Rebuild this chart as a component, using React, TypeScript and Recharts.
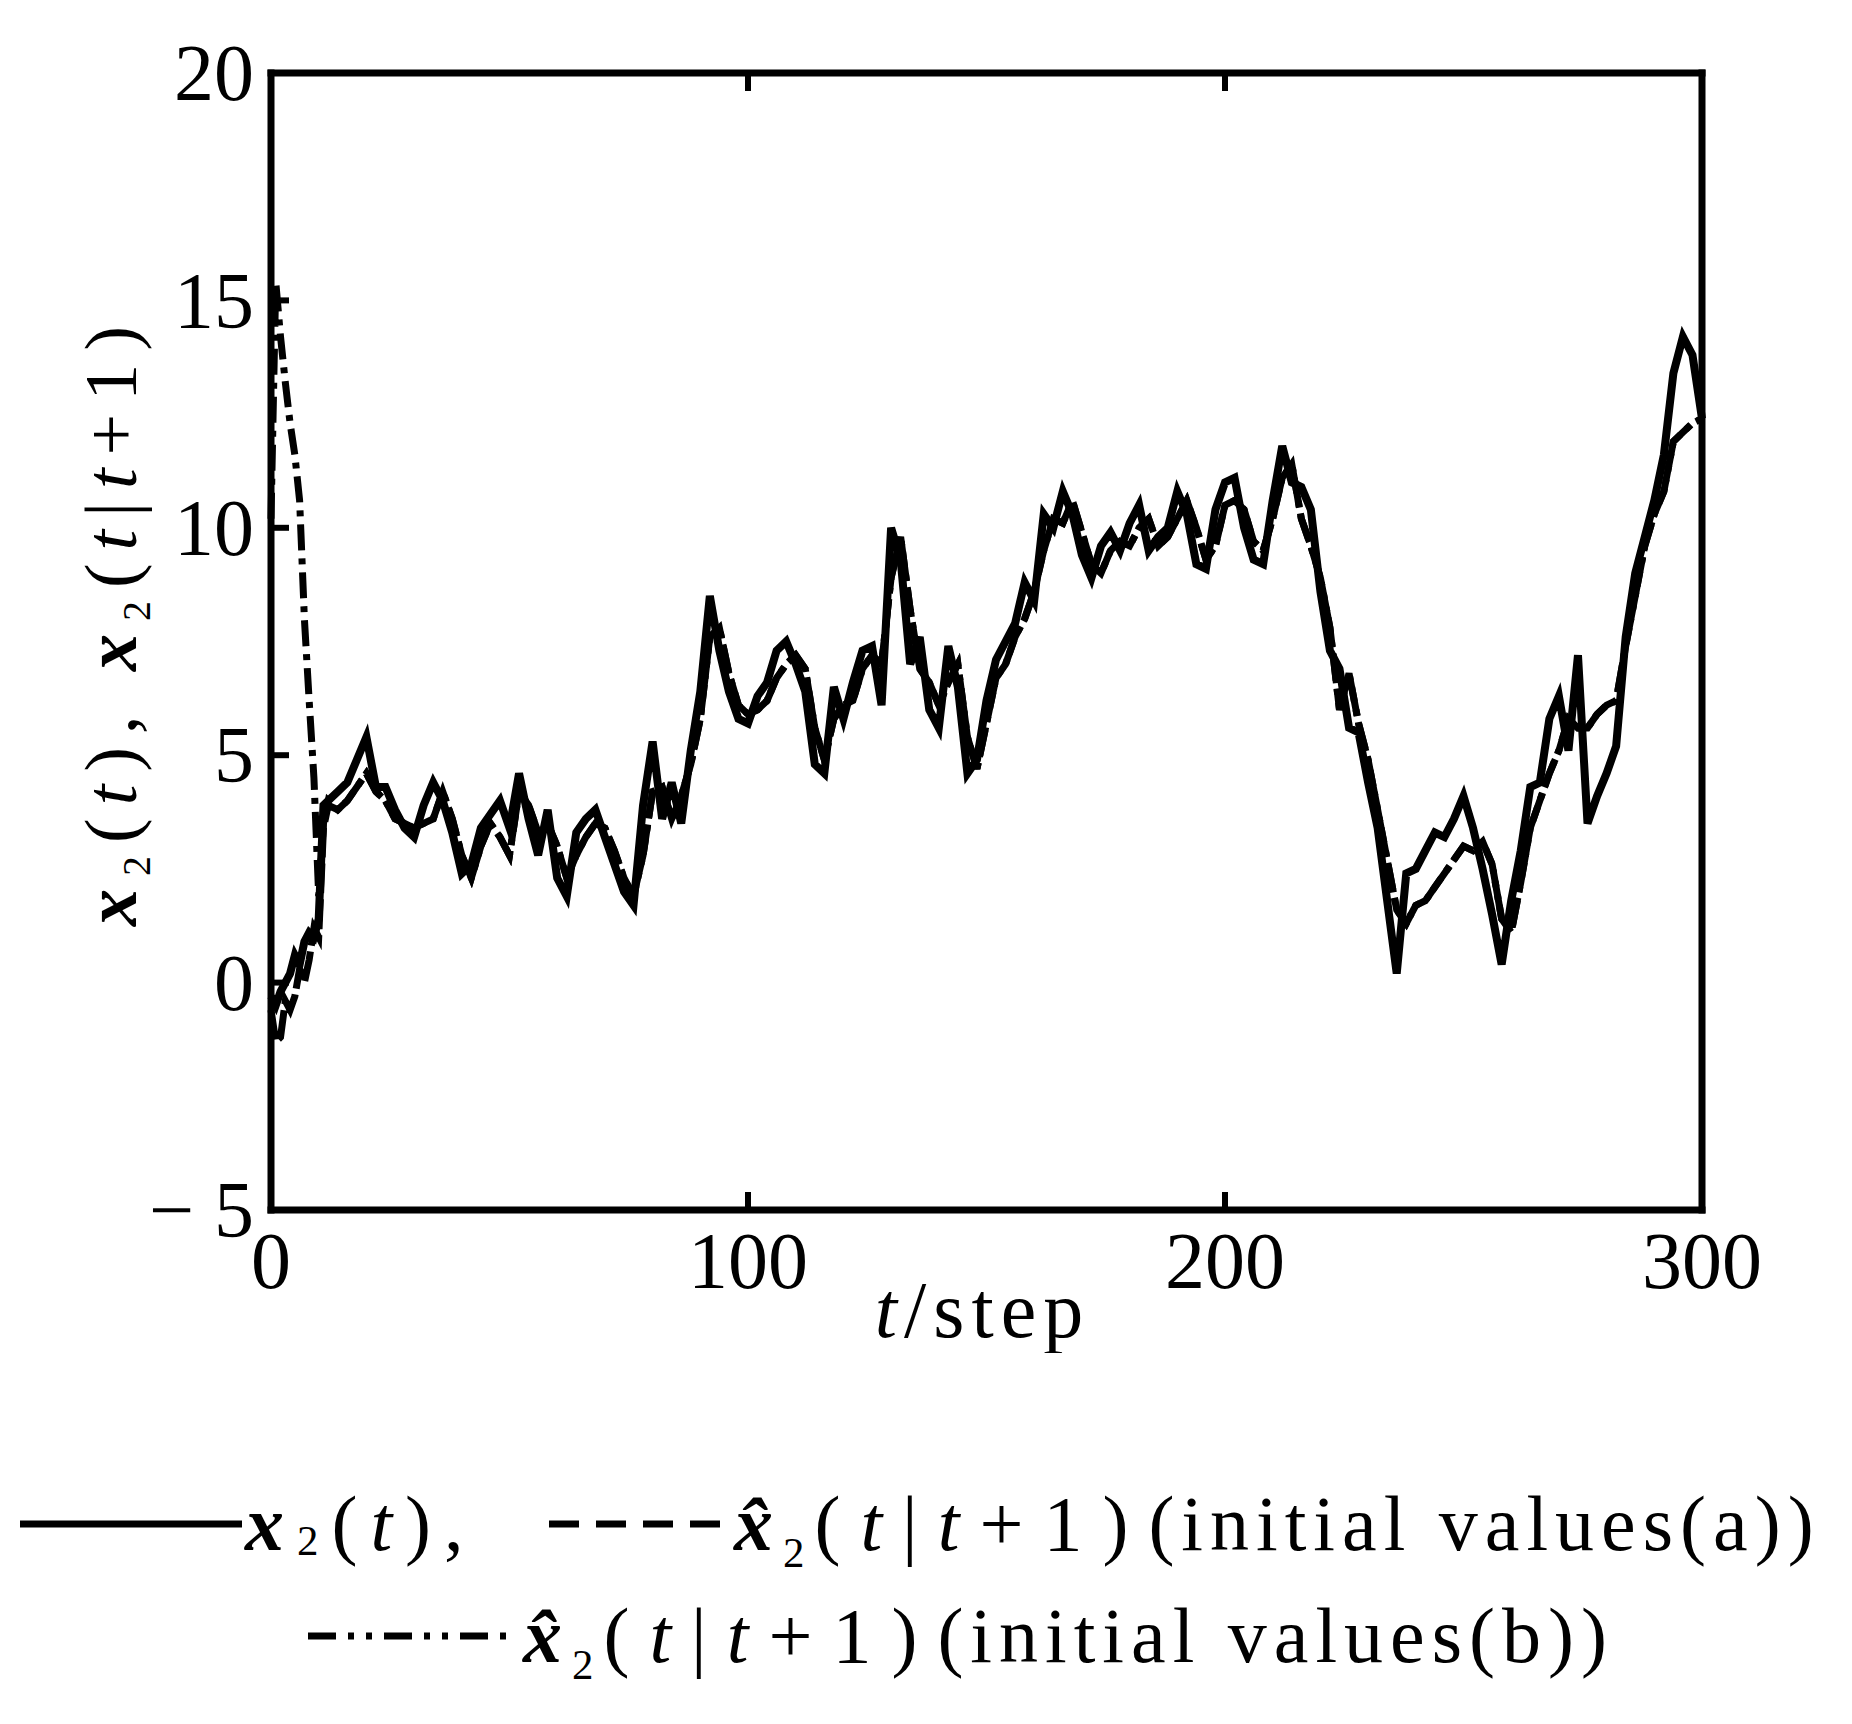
import React from "react";
import { LineChart, Line, XAxis, YAxis, Label } from "recharts";

const FONT = "'Liberation Serif', 'Times New Roman', serif";

// t = 0..12 every step, then 14..300 every 2 steps
const stepsEarly = [0, 1, 2, 3, 4, 5, 6, 7, 8, 9, 10, 11, 12];
const stepsTail = Array.from({ length: 144 }, (_, i) => 14 + i * 2);

const x2Early = [-0.3, -0.5, -0.2, 0.0, 0.2, 0.6, 0.4, 0.9, 1.1, 1.0, 1.4, 3.9, 4.0];
const estAEarly = [-0.6, -1.3, -1.2, -0.4, -0.6, -0.3, 0.3, 0.0, 0.5, 1.2, 1.0, 3.4, 3.9];
const estBEarly = [10.2, 15.4, 14.2, 13.2, 12.3, 11.6, 10.6, 8.0, 6.2, 4.5, 1.9, 3.5, 4.0];

const x2Tail = [
  4.2, 4.4, 4.9, 5.4, 4.3, 4.3, 3.8, 3.4, 3.2, 3.9,
  4.4, 4.0, 3.3, 2.4, 2.6, 3.4, 3.7, 4.0, 3.4, 4.6,
  3.6, 2.8, 3.8, 2.3, 1.9, 3.3, 3.6, 3.8, 3.2, 2.6,
  2.0, 1.7, 3.9, 5.3, 3.6, 4.4, 3.5, 5.1, 6.4, 8.5,
  7.3, 6.4, 5.8, 5.7, 6.3, 6.6, 7.3, 7.5, 7.0, 6.4,
  4.8, 4.6, 6.5, 5.8, 6.6, 7.3, 7.4, 6.1, 10.0, 9.3,
  7.0, 7.6, 6.0, 5.6, 7.4, 6.5, 4.6, 4.9, 6.2, 7.1,
  7.5, 7.9, 8.8, 8.4, 10.3, 10.0, 10.8, 10.3, 9.4, 8.9,
  9.6, 9.9, 9.5, 10.1, 10.5, 9.5, 9.8, 10.0, 10.8, 10.3,
  9.2, 9.1, 10.4, 11.0, 11.1, 10.0, 9.3, 9.2, 10.6, 11.8,
  11.0, 10.9, 10.4, 8.6, 7.3, 6.9, 5.6, 5.5, 4.4, 3.4,
  1.8, 0.2, 2.4, 2.5, 2.9, 3.3, 3.2, 3.6, 4.1, 3.4,
  2.5, 1.5, 0.4, 1.8, 2.9, 4.3, 4.4, 5.8, 6.3, 5.1,
  7.2, 3.5, 4.1, 4.6, 5.2, 7.6, 9.0, 9.8, 10.6, 11.6,
  13.4, 14.2, 13.8, 12.4,
];

// estimates (a) and (b) coincide once converged
const estTail = [
  3.8, 4.0, 4.3, 4.6, 4.2, 4.0, 3.6, 3.5, 3.4, 3.5,
  3.6, 4.2, 3.6, 2.8, 2.3, 3.0, 3.5, 3.2, 2.8, 4.2,
  3.9, 3.3, 3.5, 3.0, 2.3, 2.8, 3.2, 3.5, 3.4, 2.9,
  2.3, 1.9, 2.8, 4.2, 4.3, 3.6, 4.1, 4.8, 5.8, 7.6,
  7.8, 6.8, 6.1, 5.9, 6.0, 6.2, 6.7, 7.0, 7.2, 6.9,
  5.6, 4.9, 5.8, 6.1, 6.2, 6.9, 7.2, 7.0, 8.9, 9.8,
  8.2, 6.9, 6.6, 6.1, 6.6, 7.0, 5.4, 4.7, 5.7, 6.7,
  7.0, 7.6, 8.0, 8.6, 9.5, 10.2, 10.1, 10.6, 9.9, 9.2,
  9.0, 9.5, 9.7, 9.6, 10.0, 10.2, 9.6, 9.8, 10.2, 10.6,
  10.0, 9.3, 9.6, 10.5, 10.6, 10.4, 9.7, 9.5, 10.2, 11.1,
  11.4, 10.2, 9.6, 8.9, 7.8, 6.0, 6.8, 5.7, 4.9, 3.8,
  2.7, 1.6, 1.3, 1.7, 1.8, 2.1, 2.4, 2.7, 3.0, 2.9,
  3.1, 2.6, 1.4, 1.1, 2.2, 3.4, 4.0, 4.6, 5.1, 5.8,
  5.6, 5.6, 5.9, 6.1, 6.2, 7.4, 8.5, 9.6, 10.3, 10.8,
  11.9, 12.1, 12.3, 12.4,
];

const steps = [...stepsEarly, ...stepsTail];
const x2 = [...x2Early, ...x2Tail];
const estA = [...estAEarly, ...estTail];
const estB = [...estBEarly, ...estTail];

const xTicks = [0, 100, 200, 300];
const yTicks = [-5, 0, 5, 10, 15, 20];

const data = steps.map((t, i) => ({ t, x2: x2[i], a: estA[i], b: estB[i] }));

const TICK = 18;
const tickStroke = { stroke: "#000", strokeWidth: 6 };
const frame = { stroke: "#000", strokeWidth: 7, strokeLinecap: "square" as const };
const fmtY = (v: number) => (v < 0 ? `\u2212 ${-v}` : `${v}`);

function LeftTick({ x, y, payload }: any) {
  return (
    <g>
      <line x1={x + 17} x2={x + 17 + TICK} y1={y} y2={y} {...tickStroke} />
      <text x={x} y={y} dy="0.34em" textAnchor="end" fontFamily={FONT} fontSize={80} fill="#000">
        {fmtY(payload.value)}
      </text>
    </g>
  );
}

function RightTick({ x, y }: any) {
  return <line x1={x} x2={x - TICK} y1={y} y2={y} {...tickStroke} />;
}

function BottomTick({ x, y, payload }: any) {
  return (
    <g>
      <line x1={x} x2={x} y1={y} y2={y - TICK} {...tickStroke} />
      <text x={x} y={y + 78} textAnchor="middle" fontFamily={FONT} fontSize={80} fill="#000">
        {payload.value}
      </text>
    </g>
  );
}

function TopTick({ x, y }: any) {
  return <line x1={x} x2={x} y1={y} y2={y + TICK} {...tickStroke} />;
}

function YTitle({ viewBox }: any) {
  const cx = viewBox.x - 77;
  const cy = viewBox.y + viewBox.height / 2 - 22;
  return (
    <text
      x={cx}
      y={cy}
      transform={`rotate(-90, ${cx}, ${cy})`}
      textAnchor="middle"
      dy="0.3em"
      fontFamily={FONT}
      fontSize={74}
      letterSpacing={13}
      fill="#000"
    >
      <tspan fontWeight="bold" fontStyle="italic">x</tspan>
      <tspan fontSize={40} dy={14}>2</tspan>
      <tspan dy={-14}>(</tspan>
      <tspan fontStyle="italic">t</tspan>
      <tspan>), </tspan>
      <tspan fontWeight="bold" fontStyle="italic">x</tspan>
      <tspan fontSize={40} dy={14}>2</tspan>
      <tspan dy={-14}>(</tspan>
      <tspan fontStyle="italic">t</tspan>
      <tspan>|</tspan>
      <tspan fontStyle="italic">t</tspan>
      <tspan>+1)</tspan>
    </text>
  );
}

function XTitle({ viewBox }: any) {
  const cx = viewBox.x + viewBox.width / 2 - 4;
  return (
    <text x={cx} y={viewBox.y + 127} textAnchor="middle" fontFamily={FONT} fontSize={80} letterSpacing={7} fill="#000">
      <tspan fontStyle="italic">t</tspan>
      <tspan>/step</tspan>
    </text>
  );
}

const legendText: React.CSSProperties = {
  fontFamily: FONT,
  fontSize: 78,
  whiteSpace: "nowrap",
  lineHeight: 1,
};
const sub: React.CSSProperties = { fontSize: "0.55em", position: "relative", top: "0.4em" };
const bx: React.CSSProperties = { fontWeight: "bold", fontStyle: "italic" };

function At({ left, spacing = 0, children }: { left: number; spacing?: number; children: React.ReactNode }) {
  return (
    <span
      style={{
        ...legendText,
        position: "absolute",
        left,
        top: "50%",
        transform: "translateY(-50%)",
        letterSpacing: spacing,
        display: "flex",
        alignItems: "center",
      }}
    >
      {children}
    </span>
  );
}

function Sample({ left, width, dash }: { left: number; width: number; dash?: string }) {
  return (
    <svg width={width} height={20} style={{ position: "absolute", left, top: 40 }}>
      <line x1={0} x2={width} y1={10} y2={10} stroke="#000" strokeWidth={7} strokeDasharray={dash} />
    </svg>
  );
}

function Estimate({ tag, left }: { tag: string; left: number }) {
  return (
    <At left={left}>
      <span style={{ letterSpacing: 10 }}>
        <span style={bx}>x&#770;</span>
        <span style={sub}>2</span>
      </span>
      <span style={{ letterSpacing: 20 }}>
        (<i>t</i>|<i>t</i>+1)
      </span>
      <span style={{ letterSpacing: 7 }}>(initial values({tag}))</span>
    </At>
  );
}

const legendRow: React.CSSProperties = { position: "absolute", left: 0, width: 1836, height: 100 };

export default function App() {
  return (
    <div style={{ position: "relative", width: 1836, height: 1708, background: "#fff" }}>
      <LineChart
        width={1836}
        height={1345}
        data={data}
        margin={{ top: 64, right: 141, bottom: 0, left: 183 }}
      >
        <XAxis
          dataKey="t"
          type="number"
          domain={[0, 300]}
          ticks={xTicks}
          height={143}
          tickSize={0}
          tickMargin={0}
          tick={<BottomTick />}
          axisLine={frame}
        >
          <Label content={<XTitle />} />
        </XAxis>
        <XAxis
          xAxisId="top"
          orientation="top"
          dataKey="t"
          type="number"
          domain={[0, 300]}
          ticks={xTicks}
          height={1}
          tickSize={0}
          tickMargin={0}
          tick={<TopTick />}
          axisLine={frame}
        />
        <YAxis
          type="number"
          domain={[-5, 20]}
          ticks={yTicks}
          width={80}
          tickSize={0}
          tickMargin={17}
          tick={<LeftTick />}
          axisLine={frame}
        >
          <Label content={<YTitle />} />
        </YAxis>
        <YAxis
          yAxisId="right"
          orientation="right"
          type="number"
          domain={[-5, 20]}
          ticks={yTicks}
          width={1}
          tickSize={0}
          tickMargin={0}
          tick={<RightTick />}
          axisLine={frame}
        />
        <Line
          type="linear"
          dataKey="b"
          stroke="#000"
          strokeWidth={7}
          strokeDasharray="26 8 6 8"
          dot={false}
          isAnimationActive={false}
        />
        <Line
          type="linear"
          dataKey="a"
          stroke="#000"
          strokeWidth={7}
          strokeDasharray="30 6"
          dot={false}
          isAnimationActive={false}
        />
        <Line
          type="linear"
          dataKey="x2"
          stroke="#000"
          strokeWidth={8}
          dot={false}
          isAnimationActive={false}
        />
      </LineChart>

      {/* Legend */}
      <div style={{ ...legendRow, top: 1466 }}>
        <Sample left={12} width={222} />
        <At left={237} spacing={13}>
          <span style={bx}>x</span>
          <span style={sub}>2</span>
          <span>
            (<i>t</i>),
          </span>
        </At>
        <Sample left={541} width={180} dash="30 17" />
        <Estimate tag="a" left={726} />
      </div>
      <div style={{ ...legendRow, top: 1578 }}>
        <Sample left={300} width={200} dash="28 12 6 12 6 12" />
        <Estimate tag="b" left={515} />
      </div>
    </div>
  );
}
